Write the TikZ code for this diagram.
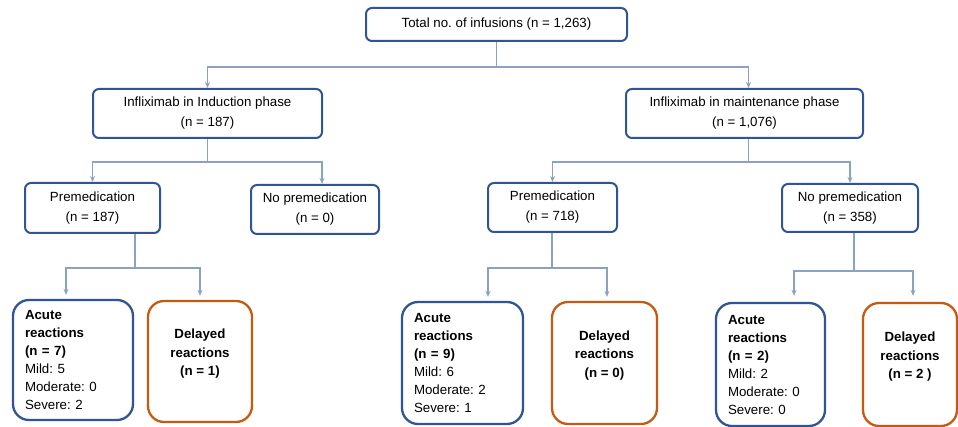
\documentclass[tikz,border=0pt]{standalone}
\usepackage{fontspec}
\setmainfont{Liberation Sans}
\usetikzlibrary{arrows.meta}

\definecolor{linkgray}{RGB}{140,162,194}
\definecolor{boxblue}{RGB}{47,85,151}
\definecolor{boxorange}{RGB}{197,90,17}

\frenchspacing

\begin{document}
\begin{tikzpicture}[x = 1pt, y = -1pt,
        font = \fontsize{13.3}{20}\selectfont,
        phase/.style = {draw = boxblue, line width = 2pt, rounded corners = 6pt,
            align = center, inner sep = 0pt},
        acute/.style = {draw = boxblue, line width = 2.3pt, rounded corners = 16pt,
            align = left, inner xsep = 12pt, inner ysep = 0pt,
            font = \fontsize{13.3}{18}\selectfont},
        delayed/.style = {draw = boxorange, line width = 2.3pt, rounded corners = 16pt,
            align = center, inner sep = 0pt,
            font = \fontsize{13.3}{18.5}\selectfont\bfseries},
        link/.style = {draw = linkgray, line width = 1.3pt},
        arrow/.style = {link, -{Stealth[length = 6pt, width = 5pt]}}]

        \useasboundingbox (0, 0) rectangle (958, 427);

        % top levels
        \node [phase, minimum width = 261, minimum height = 33] (total) at (496.5, 24.5)
            {Total no. of infusions (n = 1,263)};
        \node [phase, minimum width = 229, minimum height = 49] (induct) at (207.5, 113.5)
            {Infliximab in Induction phase\\(n = 187)};
        \node [phase, minimum width = 237, minimum height = 49] (maint) at (744.5, 113.5)
            {Infliximab in maintenance phase\\(n = 1,076)};

        \node [phase, minimum width = 135, minimum height = 50] (premedA) at (92.5, 208)
            {Premedication\\(n = 187)};
        \node [phase, minimum width = 128, minimum height = 49] (nopremedA) at (315, 209.5)
            {No premedication\\(n = 0)};
        \node [phase, minimum width = 129, minimum height = 49] (premedB) at (552.5, 207.5)
            {Premedication\\(n = 718)};
        \node [phase, minimum width = 136, minimum height = 48] (nopremedB) at (850, 208)
            {No premedication\\(n = 358)};

        % reactions
        \node [acute, text width = 96, minimum height = 120] (acuteA) at (73, 360)
            {\textbf{Acute}\\\textbf{reactions}\\\textbf{(n = 7)}\\Mild: 5\\Moderate: 0\\Severe: 2};
        \node [delayed, minimum width = 104, minimum height = 121] (delayA) at (200, 361.5)
            {Delayed\\reactions\\(n = 1)\\ \mbox{}};
        \node [acute, text width = 97, minimum height = 122] (acuteB) at (462.5, 363)
            {\textbf{Acute}\\\textbf{reactions}\\\textbf{(n = 9)}\\Mild: 6\\Moderate: 2\\Severe: 1};
        \node [delayed, minimum width = 105, minimum height = 122] (delayB) at (604.5, 363)
            {Delayed\\reactions\\(n = 0)\\ \mbox{}};
        \node [acute, text width = 85, minimum height = 123] (acuteC) at (770.5, 364.5)
            {\textbf{Acute}\\\textbf{reactions}\\\textbf{(n = 2)}\\Mild: 2\\Moderate: 0\\Severe: 0};
        \node [delayed, minimum width = 94, minimum height = 123] (delayC) at (910, 364.5)
            {Delayed\\reactions\\(n = 2 )\\ \mbox{}};

        % branch points
        \coordinate (splitT) at (496.5, 67);
        \coordinate (splitI) at (207.5, 162);
        \coordinate (splitM) at (748.5, 162);
        \coordinate (splitA) at (135, 268);
        \coordinate (splitB) at (552, 268);
        \coordinate (splitC) at (854, 271);

        \draw [link] (total.south) -- (splitT);
        \draw [arrow] (splitT) -| (induct.north);
        \draw [arrow] (splitT) -| ([xshift = 4pt]maint.north);

        \draw [link] (induct.south) -- (splitI);
        \draw [arrow] (splitI) -| (premedA.north);
        \draw [arrow] (splitI) -| ([xshift = 7pt]nopremedA.north);

        \draw [link] ([xshift = 4pt]maint.south) -- (splitM);
        \draw [arrow] (splitM) -| (premedB.north);
        \draw [arrow] (splitM) -| (nopremedB.north);

        \draw [link] (premedA.south -| splitA) -- (splitA);
        \draw [arrow, shorten > = 4pt] (splitA) -| ([xshift = -7pt]acuteA.north);
        \draw [arrow, shorten > = 4pt] (splitA) -| (delayA.north);

        \draw [link] (premedB.south -| splitB) -- (splitB);
        \draw [arrow, shorten > = 4pt] (splitB) -| ([xshift = 25.5pt]acuteB.north);
        \draw [arrow, shorten > = 4pt] (splitB) -| ([xshift = 2.5pt]delayB.north);

        \draw [link] (nopremedB.south -| splitC) -- (splitC);
        \draw [arrow, shorten > = 6pt] (splitC) -| ([xshift = 23.5pt]acuteC.north);
        \draw [arrow, shorten > = 6pt] (splitC) -| ([xshift = 3pt]delayC.north);
\end{tikzpicture}
\end{document}
